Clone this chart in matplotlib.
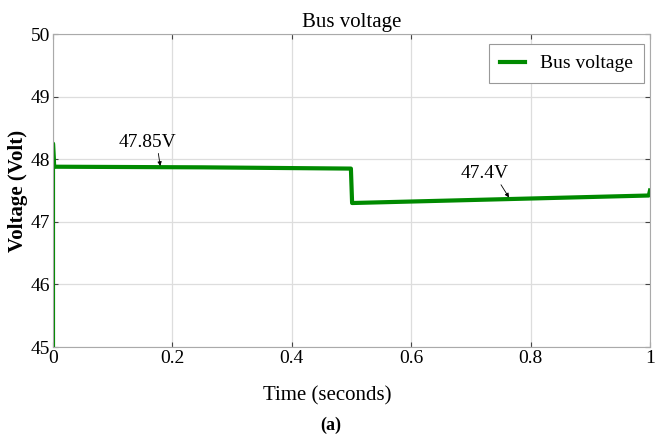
import matplotlib
matplotlib.use("Agg")
import matplotlib.pyplot as plt

# bus voltage trace
time_s = [0.0, 0.0, 0.002, 0.25, 0.499, 0.501, 0.75, 0.998, 1.0]
voltage = [45.0, 48.25, 47.88, 47.87, 47.85, 47.30, 47.36, 47.42, 47.5]

xticks = [0, 0.2, 0.4, 0.6, 0.8, 1]
xticklabels = ["0", "0.2", "0.4", "0.6", "0.8", "1"]
yticks = [45, 46, 47, 48, 49, 50]

plt.rcParams["font.family"] = ["Liberation Serif", "DejaVu Serif"]

fig = plt.figure(figsize=(6.55, 4.4), dpi=100)
ax = fig.add_axes([53 / 655, 1 - 347 / 440, 597 / 655, 313 / 440])

ax.plot(time_s, voltage, color="#008a00", linewidth=3, label="Bus voltage")

ax.set_xlim(0, 1)
ax.set_ylim(45, 50)
ax.set_xticks(xticks)
ax.set_xticklabels(xticklabels)
ax.set_yticks(yticks)
ax.tick_params(direction="in", labelsize=14, top=True, right=True, color="#444444", pad=2)
ax.grid(True, color="#dddddd", linewidth=0.9)
for s in ax.spines.values():
    s.set_color("#aaaaaa")

ax.set_title("Bus voltage", fontsize=15, pad=5)
ax.set_xlabel("Time (seconds)", fontsize=15)
ax.xaxis.set_label_coords(0.46, -0.125)
ax.set_ylabel("Voltage (Volt)", fontsize=15, fontweight="bold", labelpad=2)

ax.annotate("47.85V", xy=(0.18, 47.87), xytext=(0.11, 48.2), fontsize=14,
            arrowprops=dict(arrowstyle="-|>", color="black", lw=0.6, mutation_scale=6,
                            relpos=(0.68, 0), shrinkA=0, shrinkB=1))
ax.annotate("47.4V", xy=(0.765, 47.37), xytext=(0.683, 47.7), fontsize=14,
            arrowprops=dict(arrowstyle="-|>", color="black", lw=0.6, mutation_scale=6,
                            relpos=(0.8, 0), shrinkA=0, shrinkB=1))

leg = ax.legend(loc="upper right", fontsize=14, handlelength=1.3, borderpad=0.55,
                fancybox=False, framealpha=1, edgecolor="#999999",
                borderaxespad=0, bbox_to_anchor=(0.99, 0.968))
leg.get_frame().set_linewidth(0.8)

fig.text(0.505, 1 - 425 / 440, "(a)", ha="center", va="center", fontsize=13, fontweight="bold")

fig.savefig("out.png", dpi=100)
